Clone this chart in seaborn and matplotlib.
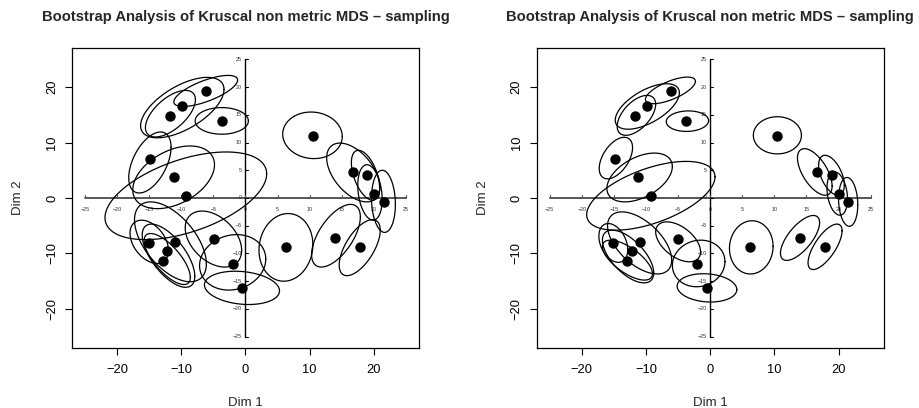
import numpy as np
import matplotlib
matplotlib.use("Agg")
import matplotlib.pyplot as plt
import seaborn as sns
import pandas as pd

title = "Bootstrap Analysis of Kruscal non metric MDS \u2013 sampling"
xlabel = "Dim 1"
ylabel = "Dim 2"

pt_x = [-6.17, -9.84, -11.70, -3.73, 10.47, -14.87, -11.19, -9.27, 16.68, 18.91, 20.00,
        21.55, -15.08, -10.93, -12.23, -12.90, -4.97, -2.02, -0.57, 6.27, 13.99, 17.88]
pt_y = [19.34, 16.64, 14.77, 13.93, 11.23, 7.03, 3.78, 0.30, 4.62, 4.20, 0.78,
        -0.72, -8.17, -7.99, -9.55, -11.41, -7.45, -11.83, -16.16, -8.83, -7.21, -8.83]

# left panel ellipses: centre, half x-extent, half y-extent, correlation
L_cx = [-6.2, -9.85, -11.7, -3.7, 10.44, -14.9, -11.2, -9.3, 16.8, 18.7, 19.4,
        21.5, -15.0, -11.7, -12.0, -12.2, -5.0, -2.0, -0.55, 6.3, 14.1, 17.8]
L_cy = [19.3, 16.3, 15.2, 13.9, 11.3, 6.4, 3.73, 0.4, 4.6, 4.1, 1.0,
        -0.6, -7.9, -7.9, -10.4, -11.0, -7.4, -11.6, -16.2, -8.9, -6.8, -8.95]
L_rx = [4.97, 6.5, 3.9, 4.15, 4.64, 3.3, 6.37, 12.6, 4.15, 2.2, 1.9,
        1.86, 3.0, 5.6, 4.1, 3.6, 4.4, 5.16, 5.85, 4.2, 3.8, 3.2]
L_ry = [2.8, 5.45, 4.2, 2.4, 4.2, 5.5, 5.65, 7.9, 5.3, 4.5, 5.0,
        5.6, 3.9, 7.2, 5.7, 4.6, 5.05, 5.0, 3.0, 6.1, 5.65, 5.05]
L_rho = [0.7, 0.6, 0.6, 0.0, -0.05, 0.5, 0.4, 0.5, -0.5, -0.5, -0.25,
         -0.1, -0.4, -0.55, -0.65, -0.72, -0.4, 0.12, -0.18, 0.08, 0.6, 0.62]

# right panel ellipses
R_cx = [-6.2, -9.8, -11.5, -3.55, 10.47, -14.7, -11.0, -9.25, 16.3, 18.9, 19.8,
        21.5, -15.1, -11.0, -12.8, -12.9, -5.0, -1.8, -0.5, 6.4, 14.0, 17.9]
R_cy = [19.4, 16.5, 14.9, 13.85, 11.3, 7.2, 3.7, 0.4, 4.7, 4.1, 0.8,
        -0.7, -8.1, -8.1, -10.55, -11.2, -7.9, -11.8, -16.2, -8.9, -7.2, -8.8]
R_rx = [3.9, 5.0, 3.0, 3.3, 3.75, 2.6, 5.1, 10.0, 2.7, 2.0, 1.6,
        1.5, 2.25, 5.0, 4.0, 3.9, 3.5, 4.1, 4.65, 3.4, 3.05, 2.65]
R_ry = [2.4, 4.1, 3.6, 1.85, 3.35, 3.75, 4.4, 6.2, 4.2, 3.6, 3.9,
        4.4, 3.5, 5.6, 4.75, 3.6, 3.6, 4.2, 2.55, 4.8, 4.05, 4.1]
R_rho = [0.68, 0.6, 0.55, 0.05, 0.0, 0.5, 0.45, 0.55, -0.6, -0.5, -0.25,
         -0.12, -0.35, -0.55, -0.62, -0.68, -0.5, 0.08, -0.12, 0.04, 0.68, 0.7]

outer_ticks = [-20, -10, 0, 10, 20]
inner_ticks = [-25, -20, -15, -10, -5, 0, 5, 10, 15, 20, 25]

sns.set_style("ticks")
plt.rcParams['font.family'] = ['Liberation Sans', 'DejaVu Sans']

W, H = 920, 408
fig = plt.figure(figsize=(W / 100, H / 100), dpi=100)

pts = pd.DataFrame({"x": pt_x, "y": pt_y})
panels = [
    (72, (L_cx, L_cy, L_rx, L_ry, L_rho)),
    (536.7, (R_cx, R_cy, R_rx, R_ry, R_rho)),
]

t = np.linspace(0, 2 * np.pi, 240)
for left_px, (cx, cy, rx, ry, rho) in panels:
    ax = fig.add_axes([left_px / W, 60 / H, 347 / W, 300 / H])
    lim = 26 * 1.04
    ax.set_xlim(-lim, lim)
    ax.set_ylim(-lim, lim)

    # ellipses
    for i in range(len(cx)):
        ex = cx[i] + rx[i] * np.cos(t)
        ey = cy[i] + ry[i] * (rho[i] * np.cos(t) + np.sqrt(1 - rho[i] ** 2) * np.sin(t))
        ax.plot(ex, ey, color="black", lw=0.9, zorder=3)

    # inner axes
    ax.plot([inner_ticks[0], inner_ticks[-1]], [0, 0], color="#555555", lw=1.4, zorder=2)
    ax.plot([0, 0], [inner_ticks[0], inner_ticks[-1]], color="black", lw=1.0, zorder=2)
    for tk in inner_ticks:
        ax.plot([tk, tk], [0, 0.5], color="#555555", lw=0.8, zorder=2)
        ax.plot([0, 0.45], [tk, tk], color="black", lw=0.8, zorder=2)
        lab = str(tk).replace("-", "\u2212")
        ax.annotate(lab, (tk, 0), xytext=(0, -8.5), textcoords="offset points",
                    ha="center", va="center", fontsize=3.9, color="#333333", zorder=2)
        ax.annotate(lab, (0, tk), xytext=(-2.5, 0), textcoords="offset points",
                    ha="right", va="center", fontsize=3.9, color="#333333", zorder=2)

    sns.scatterplot(data=pts, x="x", y="y", ax=ax, color="black", s=56,
                    edgecolor="black", linewidth=0, zorder=4, legend=False)

    ax.set_xticks(outer_ticks)
    ax.set_yticks(outer_ticks)
    ax.set_xticklabels([str(v).replace("-", "\u2212") for v in outer_ticks])
    ax.set_yticklabels([str(v).replace("-", "\u2212") for v in outer_ticks],
                       rotation=90, va="center")
    ax.tick_params(axis="both", direction="out", length=5, width=0.8,
                   labelsize=9.3, color="black", labelcolor="black")
    ax.tick_params(axis="x", pad=6.3)
    ax.tick_params(axis="y", pad=5.0)
    for sp in ax.spines.values():
        sp.set_visible(True)
        sp.set_color("black")
        sp.set_linewidth(0.9)

    ax.set_xlabel(xlabel, fontsize=9.5)
    ax.set_ylabel(ylabel, fontsize=9.5)
    ax.xaxis.set_label_coords(0.5, (348 - 403) / 300)
    ax.xaxis.label.set_va("center")
    ax.yaxis.set_label_coords((18 - 72) / 347, 0.5)
    ax.yaxis.label.set_va("center")

    ax.text(0.5, 1 + (48 - 17) / 300, title, transform=ax.transAxes,
            ha="center", va="center", fontsize=10.6, fontweight="bold")

fig.savefig("out.png", dpi=100)
